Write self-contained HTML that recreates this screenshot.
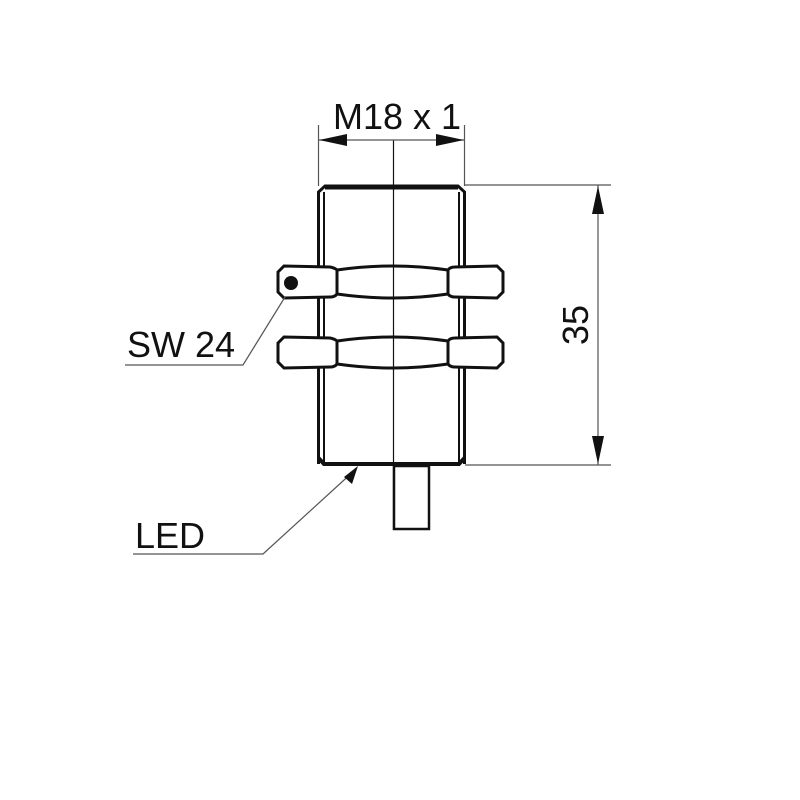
<!DOCTYPE html>
<html><head><style>html,body{margin:0;padding:0;background:#fff}svg{display:block}</style></head>
<body>
<svg width="800" height="800" viewBox="0 0 800 800" xmlns="http://www.w3.org/2000/svg" font-family="Liberation Sans, sans-serif">
<g fill="none" stroke="#111">
<path d="M318.5,464 L318.5,192 L325,186 L458,186 L464.5,192 L464.5,464" stroke-width="3"/>
<line x1="324" y1="192" x2="324" y2="462" stroke-width="2"/>
<line x1="459" y1="192" x2="459" y2="462" stroke-width="2"/>
<line x1="325" y1="187" x2="458" y2="187" stroke-width="5"/>
<path d="M318.5,458 L324,464 L459,464 L464.5,458" stroke-width="4"/>
<rect x="394" y="466" width="35" height="63" stroke-width="2.5"/>
<g fill="#fff" stroke-width="3">
<path d="M278,272 L284,266 L330,267 Q335,268 337,270 L337,294 Q335,297 330,297 L284,298 L278,292 Z"/>
<path d="M337,270 Q393,262 448,270 L448,294 Q393,302 337,294 Z"/>
<path d="M448,270 Q450,267 455,267 L497,266 L503,272 L503,292 L497,298 L455,297 Q450,297 448,294 Z"/>
<path d="M278,343 L284,337 L330,338 Q335,339 337,341 L337,364 Q335,367 330,367 L284,368 L278,362 Z"/>
<path d="M337,341 Q393,333 448,341 L448,364 Q393,372 337,364 Z"/>
<path d="M448,341 Q450,338 455,338 L497,337 L503,343 L503,362 L497,368 L455,367 Q450,367 448,364 Z"/>
</g>
<circle cx="291" cy="283" r="7" fill="#111" stroke="none"/>
<line x1="393.5" y1="140" x2="393.5" y2="530" stroke-width="1.2"/>
<g stroke="#555" stroke-width="1.2">
<line x1="318.5" y1="125" x2="318.5" y2="186"/>
<line x1="464.5" y1="125" x2="464.5" y2="186"/>
<line x1="318" y1="140" x2="465" y2="140"/>
<line x1="465" y1="185" x2="611" y2="185"/>
<line x1="465" y1="465" x2="611" y2="465"/>
<line x1="598" y1="185" x2="598" y2="465"/>
<polyline points="125,365 243,365 285,297"/>
<polyline points="133,554 263,554 355,470"/>
</g>
</g>
<g fill="#111">
<polygon points="319,140 347,134 347,146"/>
<polygon points="464,140 436,134 436,146"/>
<polygon points="598,186 592,214 604,214"/>
<polygon points="598,464 592,436 604,436"/>
<polygon points="358,466 344,477 352,484"/>
</g>
<g fill="#111" font-size="36">
<text x="397" y="129" text-anchor="middle" font-size="36">M18 x 1</text>
<text x="127" y="357">SW 24</text>
<text x="135" y="548">LED</text>
<text transform="translate(588,325) rotate(-90)" text-anchor="middle">35</text>
</g>
</svg>
</body></html>
